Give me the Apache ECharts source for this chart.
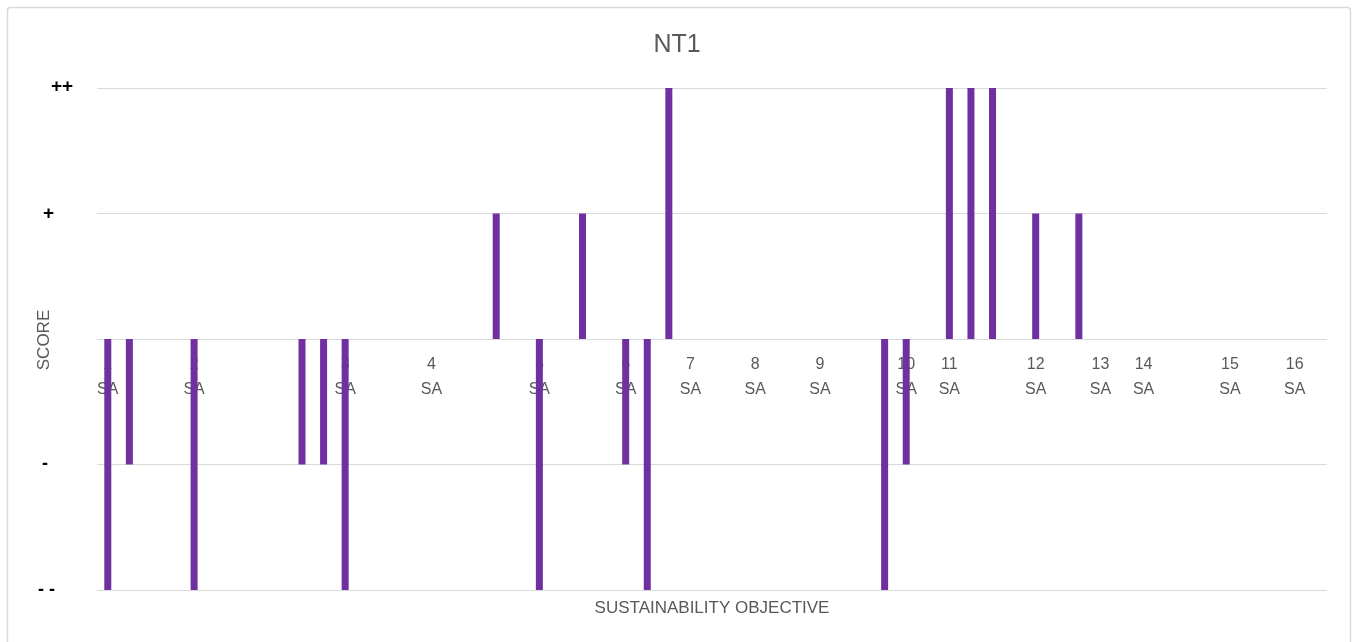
<!DOCTYPE html>
<html>
<head>
<meta charset="utf-8">
<script src="https://cdn.jsdelivr.net/npm/echarts@6/dist/echarts.min.js"></script>
<style>
html,body{margin:0;padding:0;background:#fff;}
#chart{width:1354px;height:642px;}
</style>
</head>
<body>
<div id="chart"></div>
<script>
// 57 category slots along the x axis; only some carry a label
var categories = [
  "1\nSA","","","","2\nSA","","","","","","","3\nSA","","","","4\nSA","","","","","5\nSA","","","","6\nSA","","","7\nSA","","","8\nSA","","","9\nSA","","","","10\nSA","","11\nSA","","","","12\nSA","","","13\nSA","","14\nSA","","","","15\nSA","","","16\nSA",""
];
// scores: -2 = "- -", -1 = "-", 0 = none, 1 = "+", 2 = "++"
var scores = [
  -2,-1,0,0,-2,0,0,0,0,-1,-1,-2,0,0,0,0,0,0,1,0,-2,0,1,0,-1,-2,2,0,0,0,0,0,0,0,0,0,-2,-1,0,2,2,2,0,1,0,1,0,0,0,0,0,0,0,0,0,0,0
];
var yTickLabels = ["- -","-","","+","++"];

var chart = echarts.init(document.getElementById('chart'));
var FONT = "Liberation Sans";
var GL = 97, GR = 27, GT = 88, GB = 52, W = 1354, H = 642;
// category labels sit just below the zero line (half way down the plot)
var plotH = H - GT - GB;
var labelMargin = -(plotH / 2) + 13;
chart.setOption({
  animation: false,
  backgroundColor: '#ffffff',
  title: {
    text: 'NT1',
    left: 'center',
    top: 28,
    textStyle: {fontFamily: FONT, fontSize: 25, fontWeight: 'normal', color: '#595959'}
  },
  graphic: [{
    type: 'rect',
    shape: {x: 7.5, y: 7.5, width: 1343, height: 660, r: 3},
    style: {fill: 'none', stroke: '#d9d9d9', lineWidth: 1.5},
    z: -1, silent: true
  }, {
    type: 'text',
    x: (GL + (W - GR)) / 2, y: 608,
    style: {text: 'SUSTAINABILITY OBJECTIVE', fontFamily: FONT, fontSize: 17, fill: '#595959', align: 'center', verticalAlign: 'middle'},
    silent: true
  }, {
    type: 'text',
    x: 44, y: 340, rotation: Math.PI / 2,
    style: {text: 'SCORE', fontFamily: FONT, fontSize: 17, fill: '#595959', align: 'center', verticalAlign: 'middle'},
    silent: true
  }],
  grid: {left: GL, right: GR, top: GT, bottom: GB, containLabel: false, outerBoundsMode: 'none'},
  xAxis: {
    type: 'category',
    data: categories,
    axisLine: {show: false, onZero: false},
    axisTick: {show: false},
    splitLine: {show: false},
    axisLabel: {
      interval: 0,
      margin: labelMargin,
      fontFamily: FONT,
      fontSize: 16,
      lineHeight: 25,
      color: '#595959'
    }
  },
  yAxis: {
    type: 'value',
    min: -2, max: 2, interval: 1,
    axisLine: {show: false},
    axisTick: {show: false},
    splitLine: {lineStyle: {color: '#d9d9d9', width: 1}},
    axisLabel: {
      align: 'left',
      margin: 59,
      formatter: function (v) {
        var i = Math.round(v) + 2;
        return '{l' + i + '|' + yTickLabels[i] + '}';
      },
      rich: {
        l0: {fontFamily: FONT, fontSize: 18, fontWeight: 'bold', color: '#000', padding: [0,0,0,0]},
        l1: {fontFamily: FONT, fontSize: 18, fontWeight: 'bold', color: '#000', padding: [0,0,0,4]},
        l2: {fontFamily: FONT, fontSize: 18, color: '#000'},
        l3: {fontFamily: FONT, fontSize: 19, fontWeight: 'bold', color: '#000', padding: [0,0,0,5]},
        l4: {fontFamily: FONT, fontSize: 19, fontWeight: 'bold', color: '#000', padding: [0,0,2,13]}
      }
    }
  },
  series: [{
    type: 'bar',
    data: scores,
    barWidth: 7,
    itemStyle: {color: '#7030A0'},
    z: 3
  }]
});
</script>
</body>
</html>
